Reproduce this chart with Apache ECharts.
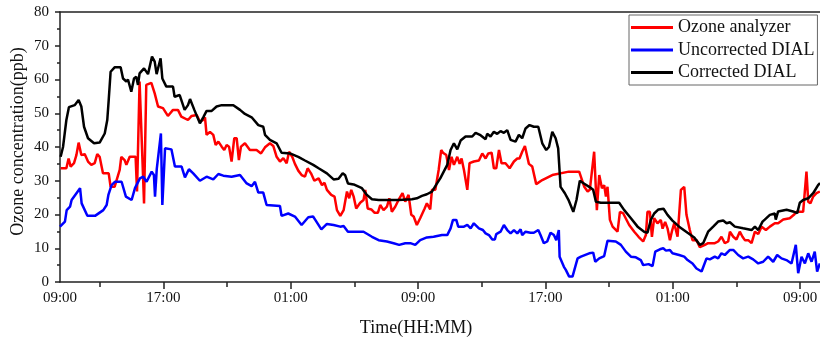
<!DOCTYPE html>
<html>
<head>
<meta charset="utf-8">
<script src="https://cdn.jsdelivr.net/npm/echarts@6/dist/echarts.min.js"></script>
<style>html,body{margin:0;padding:0;background:#fff}#c{width:820px;height:342px}</style>
</head>
<body>
<div id="c"></div>
<script>
// time = hours after 09:00 of day 1
const tickHours = [1.5, 8, 16, 24, 32, 40, 48];
const tickLabels = ['09:00', '17:00', '01:00', '09:00', '17:00', '01:00', '09:00'];
const minorTickHours = [4, 12, 20, 28, 36, 44];
const seriesNames = ['Ozone analyzer', 'Uncorrected DIAL', 'Corrected DIAL'];

const ozoneAnalyzer = [[1.54,33.7],[1.90,33.7],[2.04,36.6],[2.17,34.2],[2.38,35.2],[2.53,37.6],[2.67,41.3],[2.84,37.6],[3.05,37.9],[3.26,35.7],[3.47,34.7],[3.68,35.2],[3.84,37.9],[3.99,37.1],[4.20,32.2],[4.56,32.2],[4.68,28.2],[4.93,28.2],[5.25,33.2],[5.35,37.1],[5.56,36.1],[5.67,34.7],[5.88,37.1],[6.25,37.1],[6.34,26.8],[6.50,59.4],[6.78,23.3],[6.92,58.4],[7.24,59],[7.45,55.9],[7.66,52],[7.97,51.5],[8.28,49.2],[8.60,51],[8.91,51],[9.12,49],[9.54,48],[9.77,49.2],[10.09,49.5],[10.29,47.5],[10.50,48],[10.61,48.8],[10.71,43.6],[10.92,44.5],[11.13,43.6],[11.28,40.6],[11.45,41.6],[11.66,40.1],[11.82,39.1],[11.97,40.6],[12.12,40.1],[12.28,35.7],[12.45,42.6],[12.60,42.6],[12.74,36.1],[12.87,40.1],[13.12,41.1],[13.43,39.1],[13.85,39.1],[14.13,38.1],[14.38,39.9],[14.69,41.1],[14.90,40.3],[15.11,37.1],[15.32,35.7],[15.53,36.7],[15.74,35.2],[15.89,38.6],[16.09,37.1],[16.26,35],[16.47,33],[16.68,31.7],[16.89,31.2],[17.06,33.7],[17.27,32.2],[17.48,30],[17.75,30.7],[17.96,28.7],[18.12,29.4],[18.27,27.3],[18.54,25.8],[18.75,25.3],[18.90,21.3],[19.11,19.6],[19.32,21.3],[19.53,26.8],[19.67,24.8],[19.80,27.3],[19.95,25.3],[20.11,21.8],[20.36,23.5],[20.57,24.3],[20.68,27.3],[20.83,21.8],[21.06,21.5],[21.27,20.5],[21.47,20.5],[21.62,22.8],[21.83,21.3],[22.04,22.3],[22.19,24.8],[22.35,20.8],[22.56,22.3],[22.77,24.3],[23.02,26.3],[23.19,23.8],[23.40,25.8],[23.57,19.9],[23.72,19.4],[23.92,16.9],[24.13,18.9],[24.41,21.8],[24.55,23.3],[24.76,21.5],[24.87,27.3],[25.08,27.3],[25.29,33.2],[25.45,39.1],[25.56,38.3],[25.77,37.6],[25.94,33.2],[26.10,37.1],[26.25,34.7],[26.46,37.1],[26.61,35],[26.73,36.6],[26.88,33.2],[27.09,27.3],[27.23,35.2],[27.50,35.7],[27.82,36],[28.03,38.1],[28.24,36.6],[28.41,38.1],[28.62,38.3],[28.76,33.7],[28.91,33.7],[29.08,39.1],[29.24,35.2],[29.49,35.2],[29.75,33.7],[30.02,35.7],[30.23,36.6],[30.37,36.6],[30.54,38.6],[30.71,40.3],[30.86,37.1],[30.96,35],[31.17,34.2],[31.42,29],[31.80,30.2],[32.43,31.7],[33.47,32.7],[34.12,32.7],[34.44,28.2],[34.65,26.8],[34.79,27.3],[35.06,38.6],[35.23,21.3],[35.38,31.7],[35.55,27.8],[35.69,28.7],[35.80,25.3],[35.90,28.2],[36.05,18.4],[36.22,16.4],[36.53,14.9],[36.68,20.8],[36.89,20.3],[37.01,20.8],[37.26,16.9],[37.58,14.9],[37.85,13.4],[38.14,12],[38.31,13.9],[38.41,20.8],[38.56,20.8],[38.69,13.4],[38.83,18.9],[39.04,17.4],[39.25,18.4],[39.36,15.8],[39.52,17.8],[39.67,15.9],[39.82,12.4],[39.94,14.9],[40.09,17.4],[40.30,13.4],[40.51,27.3],[40.72,28.2],[40.86,19.9],[41.07,15.4],[41.24,12.4],[41.49,12.4],[41.70,10.3],[42.02,11],[42.22,11.5],[42.64,11.5],[42.85,12],[43.06,13.4],[43.27,11.5],[43.48,12],[43.59,14.9],[43.80,13.4],[44.00,12.6],[44.21,14.9],[44.38,13.4],[44.53,12.4],[44.74,12.4],[44.95,11.5],[45.16,14.9],[45.37,14.2],[45.58,16.4],[45.85,15.4],[46.10,16.4],[46.41,17.4],[46.62,17.4],[46.94,18.5],[47.35,18.9],[47.61,19.9],[47.77,20.8],[48.19,20.8],[48.40,32.7],[48.51,23.8],[48.65,23.3],[48.82,25.3],[49.03,26.3],[49.24,26.8]];

const uncorrectedDIAL = [[1.50,16.4],[1.81,17.9],[1.92,21.3],[2.13,22.3],[2.23,24.3],[2.76,27.8],[2.86,23.3],[3.22,19.6],[3.70,19.6],[4.22,21.3],[4.43,22.8],[4.54,25.8],[4.74,28.7],[4.95,29.7],[5.37,29.7],[5.64,25.3],[6.00,24.3],[6.21,27.8],[6.52,30.7],[6.73,31.2],[6.94,29.7],[7.26,32.7],[7.40,31.7],[7.47,25.3],[7.58,33.5],[7.70,33],[7.84,44],[7.93,22.8],[8.10,39.6],[8.50,39.3],[8.72,34.2],[8.83,33.7],[9.14,34.2],[9.35,31],[9.60,33.4],[9.87,32.2],[10.29,30],[10.71,31.2],[11.13,30.4],[11.45,32],[11.76,31.5],[12.28,31.2],[12.81,31.7],[13.23,29.2],[13.54,28.4],[13.75,29.7],[13.96,26.5],[14.27,26.5],[14.48,22.8],[15.32,22.5],[15.42,19.6],[15.84,20.3],[16.26,19.4],[16.68,16.9],[17.10,19.2],[17.40,19.4],[17.54,18.4],[17.92,15.6],[18.27,17.2],[18.69,16.9],[19.11,16.4],[19.32,16.6],[19.59,14.9],[20.57,14.9],[21.10,13.4],[21.52,12.4],[22.04,12],[22.46,11.5],[22.81,11],[23.19,11.5],[23.51,11.5],[23.82,11],[24.13,12.4],[24.55,13.2],[24.97,13.4],[25.50,13.9],[25.83,13.9],[26.04,15.9],[26.19,18.4],[26.40,18.4],[26.52,16.4],[26.88,16.4],[27.09,16.9],[27.30,15.9],[27.50,17.4],[27.82,15.9],[28.07,15.4],[28.24,14.4],[28.45,13.9],[28.66,12.6],[28.82,12.6],[28.91,14.2],[29.18,14.9],[29.39,16.9],[29.60,15.4],[29.81,14.4],[30.02,15.4],[30.23,14.4],[30.44,15.6],[30.54,13.9],[30.75,14.9],[31.06,14.6],[31.27,14.6],[31.55,15.4],[31.69,13.9],[31.90,11.5],[32.11,12],[32.32,14.6],[32.53,13.9],[32.68,12.4],[32.84,15.4],[32.89,7.5],[33.16,4.5],[33.28,3.6],[33.49,1.6],[33.70,1.6],[34.02,7],[34.23,7.5],[34.75,8.5],[35.00,8.7],[35.13,6],[35.38,7],[35.69,7.7],[35.90,12.2],[36.42,12],[36.74,11],[37.05,9],[37.37,7.5],[37.68,7.3],[37.99,6.5],[38.14,5],[38.48,5.3],[38.73,4.7],[38.90,9],[39.19,9.7],[39.40,10],[39.57,9.3],[39.82,9.5],[39.98,8.5],[40.40,8],[40.72,7.5],[40.93,6.5],[41.24,5.5],[41.49,4],[41.81,3.1],[42.12,7],[42.33,6.7],[42.64,7.5],[42.85,7],[43.06,8.5],[43.27,8],[43.59,9.5],[43.80,9.5],[44.11,8],[44.42,7],[44.74,7.5],[45.05,6.7],[45.37,5.5],[45.68,6],[45.99,7.5],[46.31,6],[46.56,8],[46.83,7],[47.14,6.5],[47.46,5.5],[47.73,11],[47.88,2.6],[48.09,7.5],[48.30,5.5],[48.51,8.5],[48.72,6],[48.92,9],[49.07,3.1],[49.24,5.5]];

const correctedDIAL = [[1.54,37.1],[1.69,40],[1.90,48],[2.06,51.8],[2.42,52.4],[2.67,53.9],[2.84,52],[3.01,46],[3.26,42.6],[3.64,41.1],[3.99,41.3],[4.31,44],[4.47,48],[4.56,53.9],[4.68,62.3],[4.93,63.6],[5.31,63.6],[5.46,60.3],[5.67,59.4],[5.77,60],[5.98,56.4],[6.15,60.3],[6.29,60.8],[6.40,58.4],[6.50,61.8],[6.78,63.3],[7.03,61.6],[7.28,66.8],[7.45,65.3],[7.57,61.6],[7.82,66.3],[7.93,60.3],[8.18,57.9],[8.60,57.9],[8.70,54.9],[9.02,55.4],[9.33,51],[9.54,52.4],[9.67,54.2],[9.94,51],[10.29,47],[10.50,48.8],[10.71,50.7],[11.03,50.7],[11.34,52],[11.66,52.4],[12.39,52.4],[12.81,51],[13.12,49.8],[13.54,48.8],[13.96,46.5],[14.27,46],[14.38,43.6],[14.69,42.1],[15.11,41.1],[15.42,38.3],[15.95,38.1],[16.47,37.1],[16.89,36],[17.41,34.7],[17.75,33.7],[18.27,32.2],[18.69,30.4],[19.00,30.6],[19.26,32.2],[19.42,31.6],[19.59,29.2],[19.95,28.9],[20.47,27.8],[20.78,25.8],[21.10,24.5],[21.52,24.3],[22.77,24.3],[23.61,24.5],[23.92,24.8],[24.24,25.5],[24.55,26],[24.87,26.8],[25.12,28.7],[25.39,30.7],[25.83,34.7],[26.04,39.1],[26.25,41.1],[26.46,39.3],[26.67,41.9],[26.98,43.1],[27.40,43.1],[27.61,44.2],[27.92,43.5],[28.24,42.3],[28.34,43.9],[28.55,43.1],[28.76,44.5],[28.97,43.9],[29.18,44.7],[29.39,44.2],[29.60,45],[29.81,42.1],[30.12,41.6],[30.33,43.6],[30.54,42.6],[30.75,45.5],[31.00,46.5],[31.27,46],[31.55,46],[31.80,41.1],[32.05,39.1],[32.22,40],[32.43,44.5],[32.64,42.6],[32.80,39.6],[32.95,28.2],[33.22,26.3],[33.47,24.1],[33.75,20.8],[33.95,24.3],[34.16,30],[34.44,29.1],[34.75,28.2],[35.00,27.3],[35.17,23.8],[35.48,23.5],[36.63,23.5],[36.95,21.3],[37.37,18.9],[37.79,16.4],[38.20,14.9],[38.41,14.6],[38.62,18.4],[38.83,20.3],[39.10,21.5],[39.42,21.7],[39.67,19.9],[39.98,18.2],[40.40,16.4],[40.93,14.6],[41.35,13.2],[41.70,11],[41.91,11.5],[42.22,14.9],[42.54,16.4],[42.85,17.9],[43.17,18.2],[43.38,17.4],[43.59,17.7],[43.90,16.4],[44.42,15.9],[44.95,15.4],[45.16,16.4],[45.37,15.4],[45.64,17.9],[45.78,18.5],[46.10,19.9],[46.41,20.3],[46.47,18.5],[46.62,20.9],[47.15,21.4],[47.56,20.9],[47.82,20.4],[47.98,23.5],[48.19,24.3],[48.51,24.8],[48.82,26.3],[49.13,28.7],[49.25,29.3]];

const FONT = "'Liberation Serif', 'Times New Roman', serif";
const X_MIN = 1.5, X_MAX = 49.25;
const axisColor = '#222';

const chart = echarts.init(document.getElementById('c'), null, {renderer: 'canvas'});
chart.setOption({
  animation: false,
  backgroundColor: '#fff',
  grid: {left: 60, top: 12, width: 760, height: 270, containLabel: false, outerBoundsMode: 'none'},
  legend: {
    data: seriesNames,
    orient: 'vertical',
    left: 629, top: 15,
    icon: 'rect',
    itemWidth: 42, itemHeight: 3,
    itemGap: 4.5,
    padding: [3.5, 3, 3.5, 2],
    borderColor: '#666', borderWidth: 1,
    textStyle: {fontFamily: FONT, fontSize: 18, lineHeight: 18, color: '#111'}
  },
  xAxis: [
    {
      type: 'value', min: X_MIN, max: X_MAX, position: 'bottom',
      name: 'Time(HH:MM)', nameLocation: 'middle', nameGap: 37,
      nameTextStyle: {fontFamily: FONT, fontSize: 18, color: '#111', padding: [0, 48, 0, 0]},
      splitLine: {show: false},
      axisLine: {show: true, lineStyle: {color: axisColor, width: 1.5}},
      axisTick: {show: true, inside: false, length: 7, customValues: tickHours.slice(1), lineStyle: {color: axisColor, width: 1.5}},
      axisLabel: {
        show: true, margin: 9, customValues: tickHours,
        fontFamily: FONT, fontSize: 15, color: '#111',
        showMinLabel: true, showMaxLabel: true,
        formatter: function (v) {
          const i = tickHours.findIndex(h => Math.abs(h - v) < 1e-6);
          return i >= 0 ? tickLabels[i] : '';
        }
      }
    },
    {
      type: 'value', min: X_MIN, max: X_MAX, position: 'bottom', gridIndex: 0,
      splitLine: {show: false},
      axisLine: {show: false},
      axisTick: {show: true, inside: false, length: 5, customValues: minorTickHours, lineStyle: {color: axisColor, width: 1.5}},
      axisLabel: {show: false}
    },
    {
      type: 'value', min: X_MIN, max: X_MAX, position: 'top', gridIndex: 0,
      splitLine: {show: false},
      axisLine: {show: true, lineStyle: {color: axisColor, width: 1.5}},
      axisTick: {show: false},
      axisLabel: {show: false}
    }
  ],
  yAxis: {
    type: 'value', min: 0, max: 80, interval: 10,
    name: 'Ozone concentration(ppb)', nameLocation: 'middle', nameGap: 33, nameMoveOverlap: false,
    nameTextStyle: {fontFamily: FONT, fontSize: 18, color: '#111', padding: [0, 0, 0, 11]},
    splitLine: {show: false},
    axisLine: {show: true, lineStyle: {color: axisColor, width: 1.5}},
    axisTick: {show: true, inside: false, length: 5, lineStyle: {color: axisColor, width: 1.5}},
    minorTick: {show: true, splitNumber: 2, length: 3, lineStyle: {color: axisColor, width: 1.5}},
    axisLabel: {fontFamily: FONT, fontSize: 15, color: '#111', margin: 11}
  },
  series: [
    {name: seriesNames[0], type: 'line', xAxisIndex: 0, data: ozoneAnalyzer, showSymbol: false, symbol: 'none',
     lineStyle: {color: '#ff0000', width: 2.5}, itemStyle: {color: '#ff0000'}, z: 2},
    {name: seriesNames[1], type: 'line', xAxisIndex: 0, data: uncorrectedDIAL, showSymbol: false, symbol: 'none',
     lineStyle: {color: '#0000ff', width: 2.5}, itemStyle: {color: '#0000ff'}, z: 3},
    {name: seriesNames[2], type: 'line', xAxisIndex: 0, data: correctedDIAL, showSymbol: false, symbol: 'none',
     lineStyle: {color: '#000000', width: 2.5}, itemStyle: {color: '#000000'}, z: 4}
  ]
});
</script>
</body>
</html>
